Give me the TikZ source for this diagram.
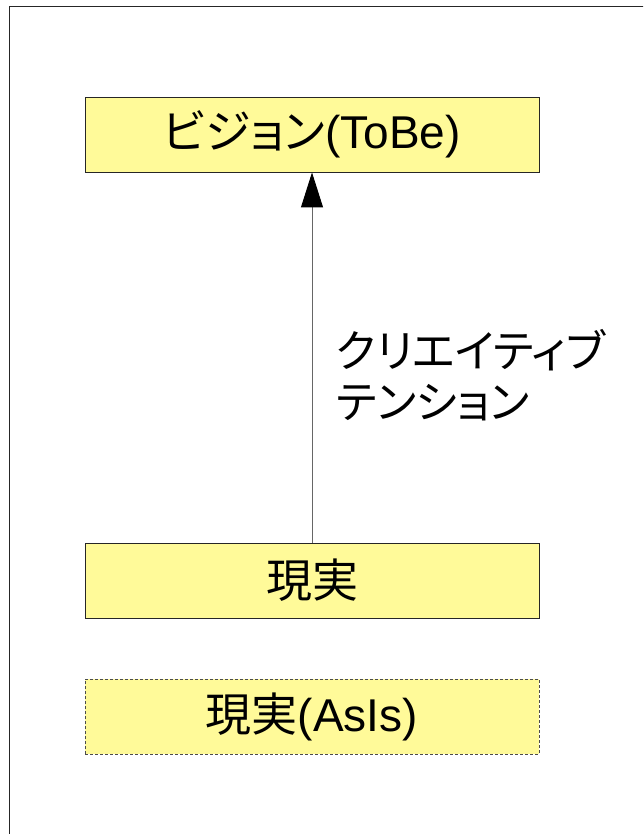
\documentclass[tikz,border=0pt]{standalone}
\usepackage{fontspec}
\setmainfont{Liberation Sans}
\newfontfamily\cjk[RawFeature=+palt]{Noto Sans CJK JP}
\usetikzlibrary{arrows.meta,positioning}

\begin{document}
\begin{tikzpicture}[x=1pt,y=-1pt,
  box/.style={draw=black!85,line width=0.9pt,fill=yellow!40!white,minimum width=454pt,minimum height=75pt,inner sep=0pt,font=\fontsize{46}{50}\selectfont},
  asisbox/.style={box,dashed,draw=black!70,dash pattern=on 3pt off 2pt},
  tensionarrow/.style={draw=black!60,line width=0.9pt,-{Triangle[length=35pt,width=22pt,black]}}]
\clip (0,0) rectangle (643,834);
% frame
\draw [black!85,line width=1.8pt] (9.5,6.5) rectangle (700,900);
% boxes
\node [box] (vision) at (312,134.5) {{\cjk ビジョン}(ToBe)};
\node [box] (reality) at (312,580.5) {\cjk 現実};
\node [asisbox] (asis) at (312,716.5) {{\cjk 現実}(AsIs)};
% creative tension
\draw [tensionarrow] (reality.north) -- (vision.south);
\node [anchor=west,align=left,inner sep=0pt,font=\cjk\fontsize{44.5}{51}\selectfont] (label) at (336,375) {クリエイティブ\\テンション};
\end{tikzpicture}
\end{document}
